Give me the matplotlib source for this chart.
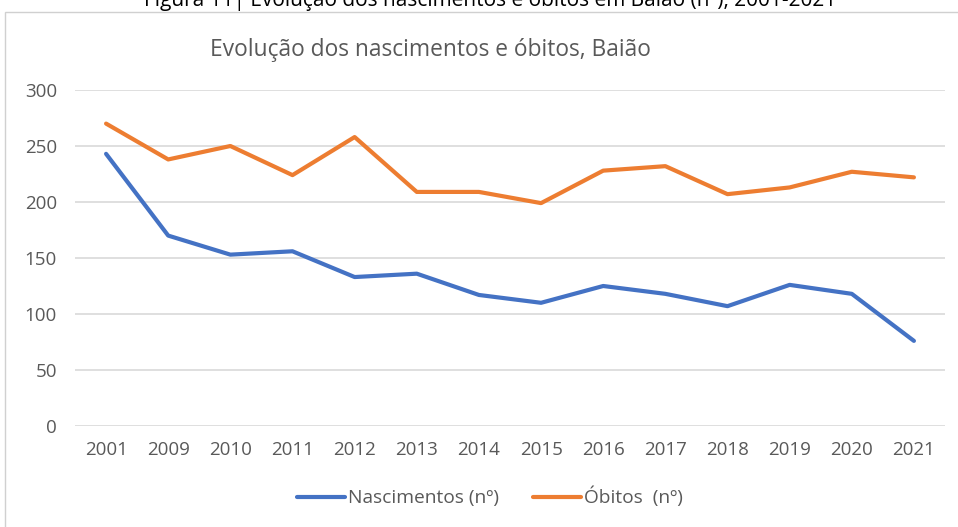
import matplotlib.pyplot as plt
from matplotlib.patches import Rectangle

anos = ['2001', '2009', '2010', '2011', '2012', '2013', '2014', '2015',
        '2016', '2017', '2018', '2019', '2020', '2021']
nascimentos = [243, 170, 153, 156, 133, 136, 117, 110, 125, 118, 107, 126, 118, 76]
obitos = [270, 238, 250, 224, 258, 209, 209, 199, 228, 232, 207, 213, 227, 222]

plt.rcParams['font.family'] = ['Open Sans', 'DejaVu Sans']
cinza = '#595959'

fig = plt.figure(figsize=(9.58, 5.27), dpi=100)
W, H = 958, 527

# moldura do gráfico
fig.patches.append(Rectangle((5 / W, -0.2), 1.2, 1.2 - 12 / H,
                             transform=fig.transFigure, fill=False,
                             edgecolor='#D0D0D0', linewidth=1))

ax = fig.add_axes([75 / W, 1 - 426 / H, 870 / W, 336 / H])
x = range(len(anos))
ax.plot(x, nascimentos, color='#4472C4', lw=3, solid_capstyle='round',
        solid_joinstyle='round', label='Nascimentos (nº)')
ax.plot(x, obitos, color='#ED7D31', lw=3, solid_capstyle='round',
        solid_joinstyle='round', label='Óbitos  (nº)')

ax.set_xlim(-0.5, len(anos) - 0.5)
ax.set_ylim(0, 300)
ax.set_yticks(range(0, 301, 50))
ax.set_xticks(list(x))
ax.set_xticklabels(anos)
ax.grid(axis='y', color='#D9D9D9', linewidth=1.2)
ax.set_axisbelow(True)
for s in ax.spines.values():
    s.set_visible(False)
ax.tick_params(length=0, colors=cinza, labelsize=13.5)
ax.tick_params(axis='y', pad=13)
ax.tick_params(axis='x', pad=11)

fig.text(210 / W, 1 - 50 / H, 'Evolução dos nascimentos e óbitos, Baião',
         fontsize=16.4, color=cinza, ha='left', va='center')
fig.text(490 / W, 1 - 6 / H, 'Figura 11| Evolução dos nascimentos e óbitos em Baião (nº), 2001-2021',
         fontsize=15, color='black', ha='center', va='baseline')

fig.legend(loc='center', bbox_to_anchor=(490 / W, 1 - 497 / H), ncol=2,
           frameon=False, fontsize=13.8, labelcolor=cinza, handlelength=2.5,
           handletextpad=0.15, columnspacing=1.8)

fig.savefig('out.png', dpi=100)
